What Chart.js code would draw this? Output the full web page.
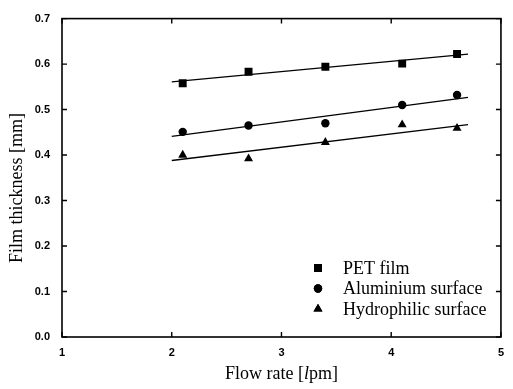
<!DOCTYPE html>
<html>
<head>
<meta charset="utf-8">
<script src="https://cdn.jsdelivr.net/npm/chart.js@4"></script>
<style>
  html, body { margin: 0; padding: 0; background: #fff; }
  canvas { display: block; }
</style>
</head>
<body>
<canvas id="c" width="513" height="389"></canvas>
<script>
// ---- data ----
const flowRate    = [2.1, 2.7, 3.4, 4.1, 4.6];
const petFilm     = [0.558, 0.583, 0.594, 0.601, 0.622];
const aluminium   = [0.451, 0.465, 0.470, 0.510, 0.532];
const hydrophilic = [0.400, 0.392, 0.428, 0.467, 0.459];
const fitRange    = [2.0, 4.7];
const petFit      = [0.561, 0.622];
const aluFit      = [0.441, 0.527];
const hydFit      = [0.388, 0.467];
const seriesNames = ['PET film', 'Aluminium surface', 'Hydrophilic surface'];
const xTicks      = [1, 2, 3, 4, 5];
const yTicks      = [0, 0.1, 0.2, 0.3, 0.4, 0.5, 0.6, 0.7];

const pts = (xs, ys) => xs.map((x, i) => ({ x: x, y: ys[i] }));

const serif = '"Liberation Serif", "Times New Roman", serif';
const sans  = '"Liberation Sans", Arial, sans-serif';

const markerStyles = [
  { pointStyle: 'rect', radius: 5.6 },
  { pointStyle: 'circle', radius: 4.2 },
  { pointStyle: 'triangle', radius: 5.2 }
];

function pointDs(label, ys, m) {
  return {
    type: 'scatter', label: label, data: pts(flowRate, ys),
    pointStyle: m.pointStyle, pointRadius: m.radius,
    backgroundColor: '#000', borderColor: '#000', borderWidth: 0, showLine: false
  };
}
function fitDs(ys) {
  return {
    type: 'line', label: 'fit', data: pts(fitRange, ys),
    borderColor: '#000', borderWidth: 1.3, pointRadius: 0, fill: false, tension: 0
  };
}

const decor = {
  id: 'decor',
  afterDraw(chart) {
    const ctx = chart.ctx, a = chart.chartArea;
    const xs = chart.scales.x, ys = chart.scales.y;
    ctx.save();
    ctx.strokeStyle = '#000';
    // frame
    ctx.lineWidth = 1.6;
    ctx.strokeRect(a.left, a.top, a.right - a.left, a.bottom - a.top);
    // inward ticks
    ctx.lineWidth = 1.4;
    const L = 5;
    ctx.beginPath();
    xTicks.forEach(v => {
      const px = xs.getPixelForValue(v);
      ctx.moveTo(px, a.bottom); ctx.lineTo(px, a.bottom - L);
      ctx.moveTo(px, a.top); ctx.lineTo(px, a.top + L);
    });
    yTicks.forEach(v => {
      const py = ys.getPixelForValue(v);
      ctx.moveTo(a.left, py); ctx.lineTo(a.left + L, py);
      ctx.moveTo(a.right, py); ctx.lineTo(a.right - L, py);
    });
    ctx.stroke();

    // legend
    ctx.fillStyle = '#000';
    ctx.font = '18px ' + serif;
    ctx.textBaseline = 'middle';
    ctx.textAlign = 'left';
    const lx = 318, tx = 343, ly0 = 268, dy = 20.5;
    seriesNames.forEach((name, i) => {
      const y = ly0 + i * dy;
      Chart.helpers.drawPoint(ctx, { pointStyle: markerStyles[i].pointStyle, radius: markerStyles[i].radius, rotation: 0 }, lx, y);
      ctx.fill();
      ctx.fillText(name, tx, y + 1);
    });

    // x title with italic l
    ctx.textBaseline = 'alphabetic';
    const parts = [
      { t: 'Flow rate [', f: '18px ' + serif },
      { t: 'l', f: 'italic 18px ' + serif },
      { t: 'pm]', f: '18px ' + serif }
    ];
    let w = 0;
    parts.forEach(p => { ctx.font = p.f; w += ctx.measureText(p.t).width; });
    let x = (a.left + a.right) / 2 - w / 2;
    parts.forEach(p => { ctx.font = p.f; ctx.fillText(p.t, x, 379); x += ctx.measureText(p.t).width; });

    // y title
    ctx.translate(17, 188);
    ctx.rotate(-Math.PI / 2);
    ctx.font = '18px ' + serif;
    ctx.textAlign = 'center';
    ctx.textBaseline = 'middle';
    ctx.fillText('Film thickness [mm]', 0, 0);
    ctx.restore();
  }
};

new Chart(document.getElementById('c'), {
  data: {
    datasets: [
      pointDs(seriesNames[0], petFilm, markerStyles[0]),
      pointDs(seriesNames[1], aluminium, markerStyles[1]),
      pointDs(seriesNames[2], hydrophilic, markerStyles[2]),
      fitDs(petFit), fitDs(aluFit), fitDs(hydFit)
    ]
  },
  options: {
    responsive: false,
    animation: false,
    layout: { padding: { top: 13, right: 9, left: 0, bottom: 0 } },
    plugins: { legend: { display: false }, tooltip: { enabled: false } },
    scales: {
      x: {
        type: 'linear', min: 1, max: 5,
        afterFit(s) { s.height = 52; },
        afterBuildTicks(s) { s.ticks = xTicks.map(v => ({ value: v })); },
        grid: { display: false, drawTicks: false },
        border: { display: false },
        ticks: { color: '#000', padding: 9, font: { family: sans, size: 11, weight: 'bold' } }
      },
      y: {
        type: 'linear', min: 0, max: 0.7,
        afterFit(s) { s.width = 62; },
        afterBuildTicks(s) { s.ticks = yTicks.map(v => ({ value: v })); },
        grid: { display: false, drawTicks: false },
        border: { display: false },
        ticks: { color: '#000', padding: 12, font: { family: sans, size: 11, weight: 'bold' },
                 callback: v => Number(v).toFixed(1) }
      }
    }
  },
  plugins: [decor]
});
</script>
</body>
</html>
